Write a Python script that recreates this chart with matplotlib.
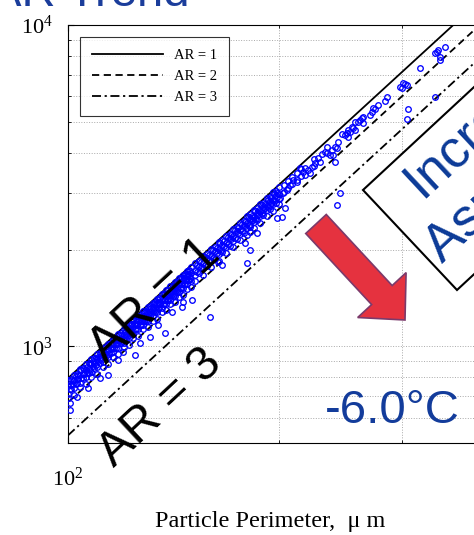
import matplotlib
matplotlib.use("Agg")
import matplotlib.pyplot as plt
from matplotlib.patches import FancyArrow, Polygon
from matplotlib.ticker import NullFormatter

# ---- reference lines (ellipses of fixed aspect ratio) ----
line_perim = [80, 1000]
ar1_area = [509, 79600]
ar2_area = [428, 66900]
ar3_area = [338, 52800]

# ---- dense band of particles, 100-150 um ----
dense_perim = [100, 101, 102, 103, 104, 105, 106, 107, 108, 109, 110, 111, 112,
               113, 114, 115, 116, 117, 118, 119, 120, 121, 122, 123, 124, 125,
               126, 127, 128, 129, 130, 131, 132, 133, 134, 135, 136, 137, 138,
               139, 140, 141, 142, 143, 144, 145, 146, 147, 148, 149, 150]
dense_area_a = [784, 790, 815, 822, 848, 855, 880, 889, 914, 921, 948, 956, 983,
                992, 1019, 1026, 1054, 1062, 1091, 1099, 1129, 1136, 1167, 1174,
                1205, 1212, 1245, 1252, 1285, 1291, 1325, 1332, 1366, 1372, 1408,
                1414, 1450, 1456, 1493, 1499, 1537, 1542, 1581, 1586, 1626, 1631,
                1671, 1676, 1717, 1722, 1764]
dense_area_b = [752, 758, 783, 789, 815, 819, 846, 851, 879, 883, 911, 916, 945,
                949, 979, 983, 1014, 1017, 1049, 1052, 1085, 1088, 1121, 1124,
                1158, 1161, 1196, 1198, 1234, 1237, 1273, 1275, 1312, 1314, 1352,
                1354, 1393, 1395, 1434, 1436, 1476, 1478, 1518, 1520, 1561, 1563,
                1605, 1606, 1649, 1650, 1694]
dense_area_c = [712, 736, 741, 766, 770, 796, 800, 826, 830, 858, 861, 889, 892,
                922, 925, 955, 957, 988, 990, 1022, 1024, 1057, 1058, 1092, 1093,
                1128, 1129, 1164, 1165, 1201, 1202, 1239, 1239, 1277, 1277, 1316,
                1316, 1355, 1354, 1395, 1394, 1435, 1434, 1476, 1475, 1518, 1516,
                1560, 1558, 1603, 1600]
half_perim = [100.5, 101.5, 102.5, 103.5, 104.5, 105.5, 106.5, 107.5, 108.5,
              109.5, 110.5, 111.5, 112.5, 113.5, 114.5, 115.5, 116.5, 117.5,
              118.5, 119.5, 120.5, 121.5, 122.5, 123.5, 124.5, 125.5, 126.5,
              127.5, 128.5, 129.5, 130.5, 131.5, 132.5, 133.5, 134.5, 135.5,
              136.5, 137.5, 138.5, 139.5, 140.5, 141.5, 142.5, 143.5, 144.5,
              145.5, 146.5, 147.5, 148.5, 149.5]
half_area_a = [778, 781, 806, 812, 843, 849, 861, 890, 897, 922, 927, 957, 963,
               979, 1010, 1014, 1043, 1049, 1081, 1086, 1104, 1137, 1141, 1173,
               1178, 1211, 1218, 1236, 1271, 1276, 1309, 1314, 1350, 1356, 1375,
               1413, 1417, 1454, 1459, 1480, 1519, 1523, 1561, 1566, 1588, 1629,
               1632, 1672, 1677, 1719]
half_area_b = [735, 761, 765, 792, 794, 822, 825, 841, 869, 873, 901, 905, 934,
               938, 952, 985, 988, 1019, 1022, 1039, 1072, 1075, 1108, 1110, 1128,
               1163, 1165, 1200, 1202, 1220, 1257, 1259, 1296, 1298, 1317, 1355,
               1357, 1395, 1397, 1416, 1457, 1458, 1498, 1499, 1520, 1562, 1563,
               1605, 1606, 1627]
low_perim = [100, 102, 104, 106, 108, 110, 112, 114, 116, 118, 120, 122, 124,
             126, 128, 130, 132, 134, 136, 138, 140, 142, 144, 146, 148, 150]
low_area = [688, 706, 745, 763, 804, 822, 864, 883, 927, 946, 992, 1011, 1059,
            1078, 1129, 1148, 1200, 1220, 1274, 1294, 1350, 1370, 1428, 1449,
            1509, 1530]

# ---- band 152-200 um ----
upper_perim = [152, 154, 156, 158, 160, 162, 164, 166, 168, 170, 172, 174, 176,
               178, 180, 182, 184, 186, 188, 190, 192, 194, 196, 198, 200]
upper_area_a = [1810, 1842, 1907, 1938, 2006, 2038, 2108, 2140, 2212, 2244, 2318,
                2351, 2427, 2460, 2539, 2572, 2653, 2686, 2770, 2802, 2890, 2921,
                3011, 3043, 3135]
upper_area_b = [1721, 1783, 1812, 1877, 1906, 1973, 2002, 2072, 2101, 2173, 2202,
                2277, 2305, 2383, 2411, 2492, 2519, 2603, 2629, 2716, 2742, 2832,
                2857, 2950, 2975]
upper_area_c = [1664, 1690, 1753, 1778, 1844, 1869, 1937, 1962, 2033, 2058, 2131,
                2156, 2231, 2256, 2334, 2359, 2439, 2464, 2546, 2571, 2655, 2681,
                2767, 2792, 2881]
upper_odd_perim = [153, 155, 157, 159, 161, 163, 165, 167, 169, 171, 173, 175,
                   177, 179, 181, 183, 185, 187, 189, 191, 193, 195, 197, 199]
upper_odd_area_a = [1795, 1826, 1894, 1921, 1990, 2019, 2093, 2120, 2195, 2222,
                    2300, 2328, 2408, 2434, 2518, 2545, 2630, 2657, 2745, 2771,
                    2862, 2889, 2982, 3010]
upper_odd_area_b = [1708, 1768, 1796, 1862, 1888, 1957, 1983, 2054, 2080, 2154,
                    2179, 2256, 2281, 2360, 2386, 2467, 2492, 2576, 2601, 2687,
                    2712, 2801, 2826, 2917]
upper_low_perim = [152, 156, 160, 164, 168, 172, 176, 180, 184, 188, 192, 196, 200]
upper_low_area = [1591, 1670, 1768, 1845, 1950, 2030, 2140, 2222, 2340, 2425,
                  2547, 2636, 2763]

# ---- sparser large particles ----
mid_perim = [203, 203, 206, 206, 209, 209, 212, 212, 215, 215, 218, 218, 224,
             224, 230, 234, 234, 246]
mid_area = [3182, 3018, 3277, 3108, 3373, 3199, 3470, 3291, 3569, 3385, 3594,
            3405, 3834, 3635, 3958, 4185, 4010, 4576]
sparse_perim = [345.0, 337.2, 333.9, 339.4, 339.4, 336.1, 317.8, 300.6, 297.6,
                304.5, 299.6, 302.5, 285.2, 283.4, 276.9, 272.4, 271.5, 274.2,
                262.7, 261.0, 263.6, 269.7, 263.6, 259.3, 256.8, 254.3, 251.0,
                255.1, 252.6, 250.1, 256.8, 248.5, 251.0, 242.8, 240.4, 238.1,
                242.0, 238.8, 236.5, 227.4, 228.8, 225.1, 222.9, 216.4, 220.0,
                221.4, 209.4, 212.2, 207.4, 205.4, 202.7, 200.7, 196.1, 194.2,
                189.7, 186.1, 183.6, 181.8, 232.6, 214.3]
sparse_area = [8541, 8359, 8181, 7949, 7780, 8240, 7345, 6597, 6411, 6503, 6364,
               6550, 5967, 5799, 5636, 5514, 5358, 5475, 5133, 5058, 5170, 5244,
               4951, 4987, 4987, 4811, 4709, 4777, 4642, 4609, 4709, 4543, 4478,
               4321, 4169, 4080, 4139, 3936, 3936, 3852, 3743, 3716, 3611, 3484,
               3535, 3459, 3289, 3242, 3174, 3062, 2997, 2891, 2850, 2749, 2652,
               2559, 2469, 2382, 4020, 3585]
outlier_perim = [333.9, 305.5, 304.5, 240.4, 244.4, 242.0, 204.0, 202.0, 198.7,
                 186.1, 181.8, 178.9, 181.8, 180.0, 165.9, 163.7, 150.3, 145.9,
                 145.4, 140.7, 159.5, 134.4, 137.5, 130.9, 126.7, 124.6, 119.8,
                 117.8, 114.0, 111.1, 106.8, 103.0, 100.7, 100.7]
outlier_area = [5967, 5475, 5096, 3743, 2997, 2749, 2691, 2522, 2504, 2249, 2266,
                2094, 1991, 1813, 1788, 1827, 1391, 1371, 1323, 1276, 1231, 1163,
                1098, 1067, 1022, 938, 958, 904, 812, 795, 740, 694, 664, 632]

plt.rcParams['font.family'] = ['Liberation Serif', 'DejaVu Serif']

W, H = 474, 535
fig = plt.figure(figsize=(W / 100, H / 100), dpi=100)
fig.patch.set_facecolor('white')

# log-log axes, 10^2..10^3 wide (runs past the right edge)
ax = fig.add_axes([68 / W, (H - 443) / H, 701 / W, (443 - 25) / H])
ax.set_xscale('log')
ax.set_yscale('log')
ax.set_xlim(100, 1000)
ax.set_ylim(500, 10000)

ax.plot(line_perim, ar1_area, color='black', lw=1.3, ls='-', label='AR = 1', zorder=2)
ax.plot(line_perim, ar2_area, color='black', lw=1.3, ls=(0, (4, 2.5)), label='AR = 2', zorder=2)
ax.plot(line_perim, ar3_area, color='black', lw=1.3, ls=(0, (5, 2, 1.2, 2)), label='AR = 3', zorder=2)

mk = dict(ls='none', marker='o', mfc='none', mec='blue', ms=4.0, mew=0.95, zorder=3)
for p, a in [(dense_perim, dense_area_a), (dense_perim, dense_area_b),
             (dense_perim, dense_area_c), (half_perim, half_area_a),
             (half_perim, half_area_b), (low_perim, low_area),
             (upper_perim, upper_area_a), (upper_perim, upper_area_b),
             (upper_perim, upper_area_c), (upper_odd_perim, upper_odd_area_a),
             (upper_odd_perim, upper_odd_area_b), (upper_low_perim, upper_low_area),
             (mid_perim, mid_area), (sparse_perim, sparse_area),
             (outlier_perim, outlier_area)]:
    ax.plot(p, a, **mk)

ax.grid(True, which='both', ls=':', color='#a9a9a9', lw=0.7)
ax.tick_params(which='both', direction='in', top=True, right=True, labelsize=16, pad=11)
ax.tick_params(axis='x', which='both', pad=18)
ax.tick_params(which='major', length=4)
ax.tick_params(which='minor', length=2.5)
ax.xaxis.set_minor_formatter(NullFormatter())
ax.yaxis.set_minor_formatter(NullFormatter())
for s in ax.spines.values():
    s.set_linewidth(0.8)

leg = ax.legend(loc='upper left', bbox_to_anchor=(80 / W, 1 - 37 / H),
                bbox_transform=fig.transFigure, borderaxespad=0,
                fancybox=False, edgecolor='black', fontsize=10.5,
                handlelength=4.9, handletextpad=0.75, labelspacing=0.55,
                borderpad=0.8)
leg.get_frame().set_linewidth(0.8)

# overlay in pixel units for the slide annotations
ov = fig.add_axes([0, 0, 1, 1])
ov.set_xlim(0, W)
ov.set_ylim(H, 0)
ov.axis('off')

sans = 'Liberation Sans'
ov.text(190, 6, 'AR Trend', ha='right', va='baseline', fontsize=34,
        color='#1B3D9B', family=sans)
ov.text(155, 301, 'AR = 1', rotation=43, rotation_mode='anchor', ha='center',
        va='center', fontsize=37, family=sans, color='black')
ov.text(160, 408, 'AR = 3', rotation=43, rotation_mode='anchor', ha='center',
        va='center', fontsize=35, family=sans, color='black')

ov.add_patch(FancyArrow(316, 224, 89, 96, width=28, head_width=66,
                        head_length=34, length_includes_head=True,
                        fc='#E5323F', ec='#7B3A6B', lw=1.2))

box = Polygon([(363, 190), (457, 290), (677, 86), (583, -14)], closed=True,
              fc='white', ec='black', lw=1.5)
ov.add_patch(box)
ov.text(422, 199, 'Increasing', rotation=43, rotation_mode='anchor', ha='left',
        va='baseline', fontsize=38, color='#0B3A97', family=sans)
ov.text(442, 264, 'Aspect Ratio', rotation=43, rotation_mode='anchor', ha='left',
        va='baseline', fontsize=38, color='#0B3A97', family=sans)

ov.text(392, 423, '-6.0°C', ha='center', va='baseline', fontsize=34,
        color='#133C9B', family=sans)

ov.text(270, 521, 'Particle Perimeter,  μ m', ha='center', va='center',
        fontsize=17.5, family='Liberation Serif')

fig.savefig('out.png', dpi=100)
